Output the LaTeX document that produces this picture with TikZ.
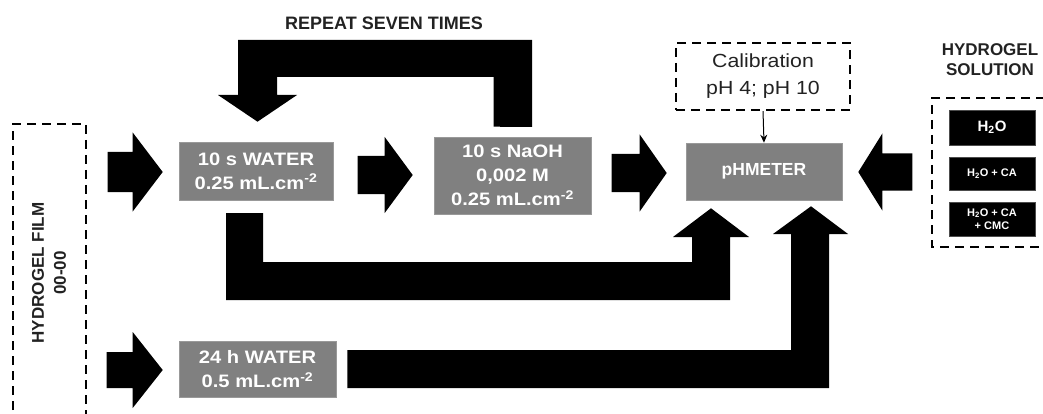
\documentclass[tikz,border=0pt]{standalone}
\usepackage{fontspec}
\setmainfont{Liberation Sans}
\newfontfamily\widesans[FakeStretch=1.12]{Liberation Sans}
\usetikzlibrary{calc,arrows.meta}
\definecolor{boxgray}{RGB}{128,128,128}
\definecolor{txtdark}{RGB}{34,34,34}
\tikzset{
  graybox/.style={fill=boxgray, draw=boxgray!80!white, line width=0.6pt, text=white, align=center, inner sep=0pt,
    font=\widesans\bfseries\fontsize{18}{24}\selectfont},
  blackbox/.style={fill=black, draw=black!70!white, line width=0.6pt, text=white, align=center, inner sep=0pt,
    minimum width=86pt, font=\bfseries\fontsize{11}{13}\selectfont},
  dashbox/.style={draw=black, line width=2.2pt, dash pattern=on 9pt off 6pt},
  blk/.style={fill=black},
  pics/rarrow/.style args={#1/#2/#3/#4}{code={
    % #1 head length, #2 head half width, #3 body length, #4 body half width
    \fill (0,0) -- (-#1,-#2) -- (-#1,-#4) -- (-#1-#3,-#4) -- (-#1-#3,#4) -- (-#1,#4) -- (-#1,#2) -- cycle;
  }},
}
\begin{document}
\begin{tikzpicture}[x=1pt,y=-1pt]
\useasboundingbox (0,0) rectangle (1043,414);
\begin{scope}
\clip (0,0) rectangle (1043,414);

% title
\node[text=txtdark, font=\bfseries\fontsize{18}{20}\selectfont] (rep) at (384,23) {REPEAT SEVEN TIMES};

% film box
\draw[dashbox] (13,440) -- (13,124) -- (86,124) -- (86,440);
\node[rotate=90, align=center, text=txtdark, font=\bfseries\fontsize{17}{22}\selectfont] (film) at (49,273) {HYDROGEL FILM\\00-00};

% gray boxes
\node[graybox, minimum width=154pt, minimum height=58pt] (water) at (256,171) {10 s WATER\\0.25 mL.cm\textsuperscript{-2}};
\node[graybox, minimum width=157pt, minimum height=77pt] (naoh) at (512.5,175.5) {10 s NaOH\\0,002 M\\0.25 mL.cm\textsuperscript{-2}};
\node[graybox, minimum width=156pt, minimum height=57pt, font=\bfseries\fontsize{17.5}{22}\selectfont] (ph) at (764,171.5) {pHMETER};
\node[graybox, minimum width=157pt, minimum height=56pt] (water24) at (257.5,369) {24 h WATER\\0.5 mL.cm\textsuperscript{-2}};

% calibration
\node[dashbox, minimum width=174pt, minimum height=67pt, inner sep=0pt] (cal) at (763,76.5) {};
\node[align=center, text=txtdark, font=\widesans\fontsize{19}{27}\selectfont] (caltext) at (cal.center) {Calibration\\pH 4; pH 10};
\draw[line width=1pt, -{Stealth[length=8pt,width=7pt]}] (cal.south) -- (ph.north);

% hydrogel solution
\node[align=center, text=txtdark, font=\bfseries\fontsize{17}{20}\selectfont] (soltitle) at (990,60) {HYDROGEL\\SOLUTION};
\draw[dashbox] (1060,98) -- (932,98) -- (932,247) -- (1060,247);
\node[blackbox, minimum height=35pt, font=\bfseries\fontsize{15}{17}\selectfont] (s1) at (992,127.5) {H\textsubscript{2}O};
\node[blackbox, minimum height=33pt] (s2) at (992,173.5) {H\textsubscript{2}O + CA};
\node[blackbox, minimum height=34pt] (s3) at (992,219) {H\textsubscript{2}O + CA\\+ CMC};

% straight block arrows
\pic at ($(water.west)+(-16,1)$) {rarrow=30/39.5/25/20};
\pic at ($(naoh.west)+(-21,-0.5)$) {rarrow=28/38/27/19};
\pic at ($(ph.west)+(-19,1.5)$) {rarrow=27/38.5/28/19};
\pic at ($(water24.west)+(-16,1)$) {rarrow=30/38/26/18};
\pic[rotate=180] at ($(ph.east)+(16,0.5)$) {rarrow=24/38.5/30/18.5};

% repeat loop (naoh -> water)
\fill[blk] ($(naoh.north)+(-19,-10)$) coordinate (r1) -- (r1 |- 0,77) -- (277,77) -- (277,95) -- (297,95)
  -- ($(water.north)+(1.5,-20)$) -- (218,95) -- (238,95) -- (238,40) -- (532,40) -- (532,127) -- cycle;

% lower loop (water -> ph)
\fill[blk] (226,213) -- (263,213) -- (263,262) -- (692,262) -- (692,237) -- (673,237)
  -- ($(ph.south)+(-53,8)$) -- (749,237) -- (730,237) -- (730,300) -- (226,300) -- cycle;

% bottom arrow (water24 -> ph)
\fill[blk] ($(water24.east)+(11,-19)$) coordinate (b1) -- (791,350) -- (791,234) -- (773,234)
  -- ($(ph.south)+(47,6)$) -- (848,234) -- (829,234) -- (829,388) -- (b1 |- 0,388) -- cycle;
\end{scope}
\end{tikzpicture}
\end{document}
